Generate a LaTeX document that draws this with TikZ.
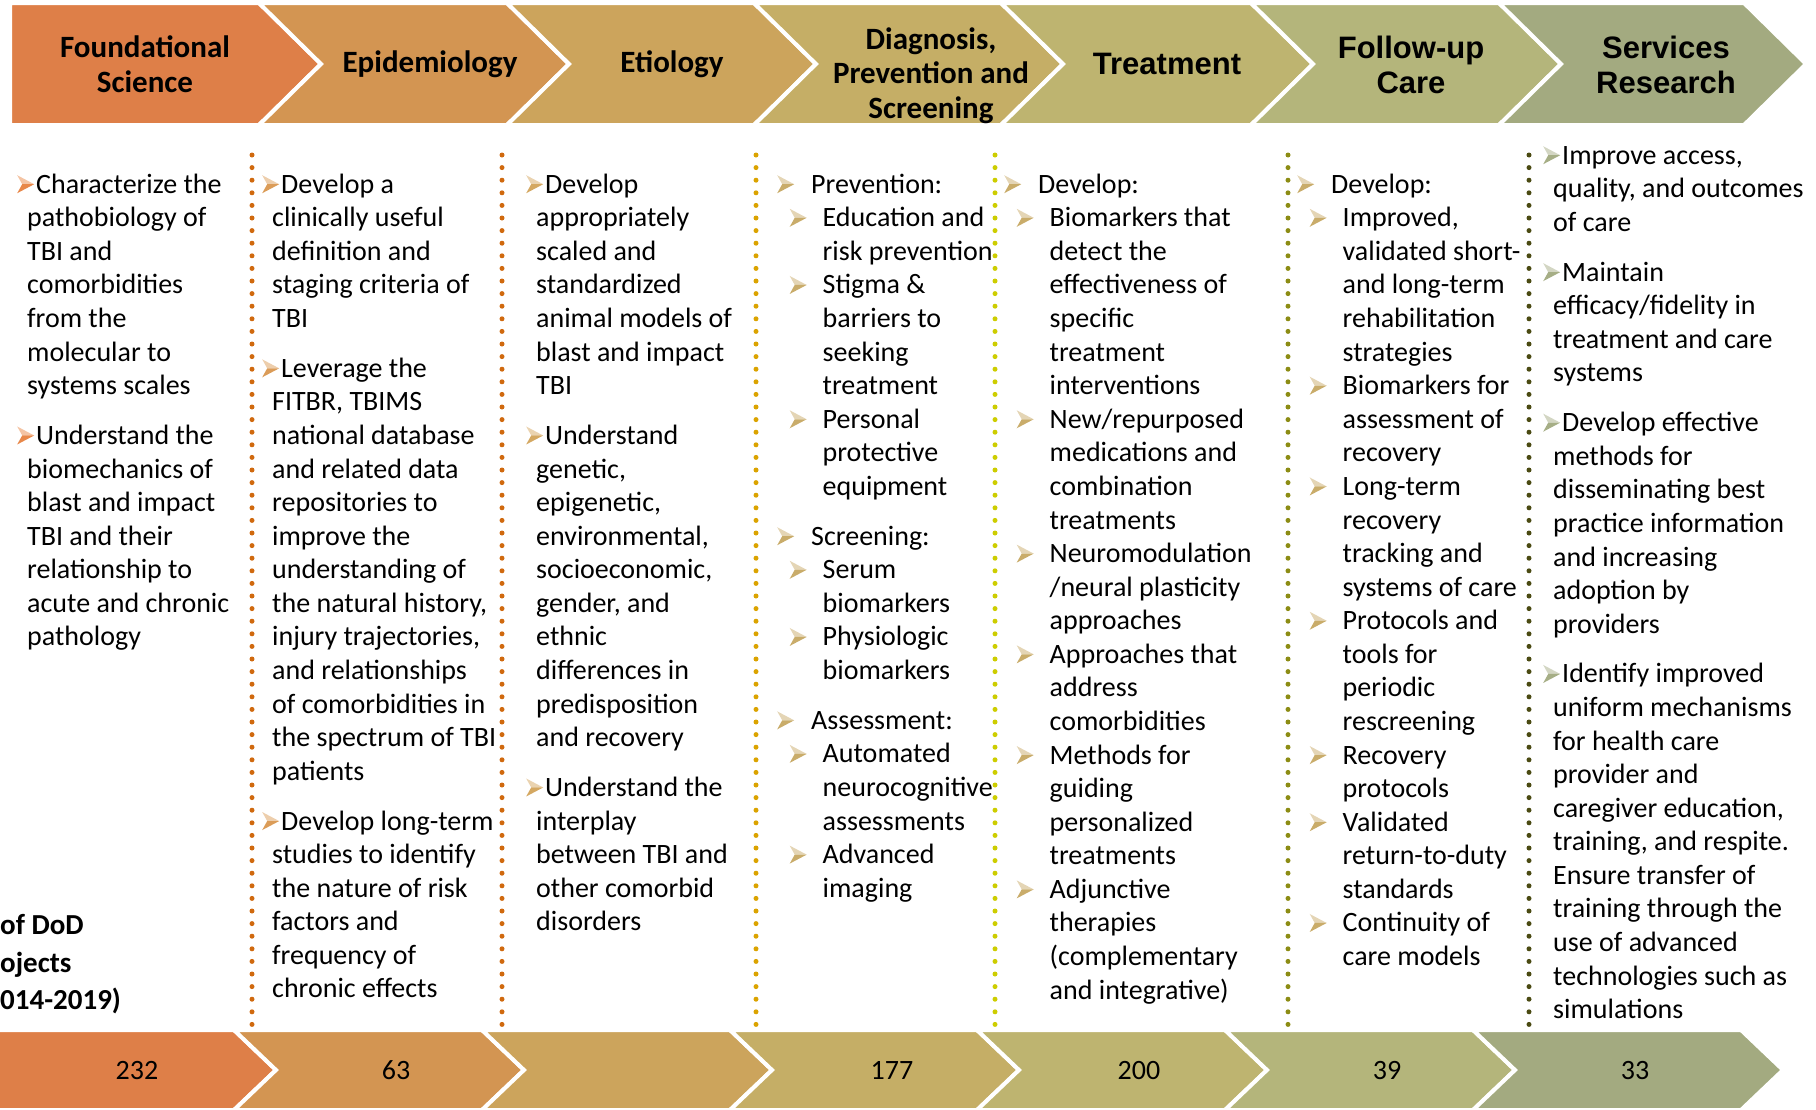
\documentclass[tikz,border=0pt]{standalone}
\usepackage{fontspec}
\setmainfont{Carlito}
\newfontfamily\arialfont{Liberation Sans}

\definecolor{chA}{HTML}{DE7F48}
\definecolor{chB}{HTML}{D39552}
\definecolor{chC}{HTML}{CCA45C}
\definecolor{chD}{HTML}{C5AE66}
\definecolor{chE}{HTML}{BEB470}
\definecolor{chF}{HTML}{B4B57B}
\definecolor{chG}{HTML}{A3AA80}
\definecolor{buA}{HTML}{E8884A}
\definecolor{buB}{HTML}{DB9C58}
\definecolor{buC}{HTML}{D4A862}
\definecolor{buD}{HTML}{C9AC6A}
\definecolor{buG}{HTML}{A6AE86}
\definecolor{dotA}{HTML}{D0690E}
\definecolor{dotC}{HTML}{DBA300}
\definecolor{dotD}{HTML}{CDCD00}
\definecolor{dotE}{HTML}{8C8C14}
\definecolor{dotF}{HTML}{4A4A12}

% bullets
\newcommand{\bulsym}[1]{\tikz[x=1pt,y=1pt,baseline=0pt]{%
  \fill[#1!50] (0,18) -- (17,9) -- (5,9) -- cycle;
  \fill[#1] (0,0) -- (17,9) -- (5,9) -- cycle;}}
\newcommand{\bfirst}[1]{\strut\hspace*{-10pt}\makebox[19pt][l]{\bulsym{#1}}}
\newcommand{\bone}[1]{\strut\llap{\makebox[34pt][l]{\bulsym{#1}}}}
\newcommand{\btwo}[1]{\strut\hspace*{11.5pt}\llap{\makebox[33pt][l]{\bulsym{#1}}}}
\newcommand{\ind}{\hspace*{11.5pt}}
\newcommand{\pgap}{16.2pt}

\begin{document}
\begin{tikzpicture}[x=1pt,y=-1pt,
    chev/.style={draw=white,line width=4pt,line join=miter},
    head/.style={font=\fontsize{31}{35}\selectfont\bfseries,align=center,inner sep=0pt},
    headar/.style={head,font=\arialfont\fontsize{31}{35}\selectfont\bfseries},
    col/.style={font=\fontsize{28}{33.58}\selectfont,align=left,anchor=north west,inner sep=0pt},
    num/.style={font=\fontsize{28}{30}\selectfont,inner sep=0pt},
    side/.style={font=\fontsize{29}{37}\selectfont\bfseries,anchor=base west,inner sep=0pt},
    sep/.style={line width=5pt,line cap=round,dash pattern=on 0pt off 12.6pt}]

\useasboundingbox (0,0) rectangle (1816,1109);

% top band
\filldraw[chev,fill=chA] (10,3) -- (259,3) -- (321,64) -- (259,125) -- (10,125) -- cycle;
\foreach \a/\b/\c in {259/507/chB,507/754/chC,754/1001/chD,1001/1251/chE,1251/1499/chF,1499/1744/chG}
  \filldraw[chev,fill=\c] (\a,3) -- (\b,3) -- (\b+62,64) -- (\b,125) -- (\a,125) -- (\a+62,64) -- cycle;

\node[head] (hFound) at (145,64.5) {Foundational\\Science};
\node[head] (hEpi) at (430,64) {Epidemiology};
\node[head] (hEti) at (672,64) {Etiology};
\node[head,font=\fontsize{31}{34.5}\selectfont\bfseries] (hDiag) at (931,75.5) {Diagnosis,\\Prevention and\\Screening};
\node[headar] (hTreat) at (1167,63.5) {Treatment};
\node[headar] (hFollow) at (1411,64.5) {Follow-up\\Care};
\node[headar] (hServ) at (1666,64.5) {Services\\Research};

% bottom band
\filldraw[chev,fill=chA] (-5,1030) -- (234,1030) -- (276,1070) -- (234,1110) -- (-5,1110) -- cycle;
\foreach \a/\b/\c in {234/482/chB,482/730/chC,730/977/chD,977/1225/chE,1225/1473/chF,1473/1741/chG}
  \filldraw[chev,fill=\c] (\a,1030) -- (\b,1030) -- (\b+42,1070) -- (\b,1110) -- (\a,1110) -- (\a+42,1070) -- cycle;

\node[num] (nFound) at (137,1070) {232};
\node[num] (nEpi) at (396,1070) {63};
\node[num] (nDiag) at (892,1070) {177};
\node[num] (nTreat) at (1139,1070) {200};
\node[num] (nFollow) at (1387,1070) {39};
\node[num] (nServ) at (1635,1070) {33};

\node[side] (sOne) at (0,934) {of DoD};
\node[side] (sTwo) at (0,972) {ojects};
\node[side] (sThree) at (0,1009) {014-2019)};

% dotted separators
\draw[sep,dotA] (252,155) -- (252,1028);
\draw[sep,dotA] (502,155) -- (502,1028);
\draw[sep,dotC] (756,155) -- (756,1028);
\draw[sep,dotD] (995,155) -- (995,1028);
\draw[sep,dotE] (1288,155) -- (1288,1028);
\draw[sep,dotF] (1529,155) -- (1529,1028);

% columns
\node[col] (cFound) at (27,169.5) {%
\bfirst{buA}Characterize the\\
pathobiology of\\
TBI and\\
comorbidities\\
from the\\
molecular to\\
systems scales\\[\pgap]
\bfirst{buA}Understand the\\
biomechanics of\\
blast and impact\\
TBI and their\\
relationship to\\
acute and chronic\\
pathology};

\node[col] (cEpi) at (272,169.5) {%
\bfirst{buB}Develop a\\
clinically useful\\
definition and\\
staging criteria of\\
TBI\\[\pgap]
\bfirst{buB}Leverage the\\
FITBR, TBIMS\\
national database\\
and related data\\
repositories to\\
improve the\\
understanding of\\
the natural history,\\
injury trajectories,\\
and relationships\\
of comorbidities in\\
the spectrum of TBI\\
patients\\[\pgap]
\bfirst{buB}Develop long-term\\
studies to identify\\
the nature of risk\\
factors and\\
frequency of\\
chronic effects};

\node[col] (cEti) at (536,169.5) {%
\bfirst{buC}Develop\\
appropriately\\
scaled and\\
standardized\\
animal models of\\
blast and impact\\
TBI\\[\pgap]
\bfirst{buC}Understand\\
genetic,\\
epigenetic,\\
environmental,\\
socioeconomic,\\
gender, and\\
ethnic\\
differences in\\
predisposition\\
and recovery\\[\pgap]
\bfirst{buC}Understand the\\
interplay\\
between TBI and\\
other comorbid\\
disorders};

\node[col] (cDiag) at (811,169.5) {%
\bone{buD}Prevention:\\
\btwo{buD}Education and\\
\ind risk prevention\\
\btwo{buD}Stigma \&\\
\ind barriers to\\
\ind seeking\\
\ind treatment\\
\btwo{buD}Personal\\
\ind protective\\
\ind equipment\\[\pgap]
\bone{buD}Screening:\\
\btwo{buD}Serum\\
\ind biomarkers\\
\btwo{buD}Physiologic\\
\ind biomarkers\\[\pgap]
\bone{buD}Assessment:\\
\btwo{buD}Automated\\
\ind neurocognitive\\
\ind assessments\\
\btwo{buD}Advanced\\
\ind imaging};

\node[col] (cTreat) at (1038,169.5) {%
\bone{buD}Develop:\\
\btwo{buD}Biomarkers that\\
\ind detect the\\
\ind effectiveness of\\
\ind specific\\
\ind treatment\\
\ind interventions\\
\btwo{buD}New/repurposed\\
\ind medications and\\
\ind combination\\
\ind treatments\\
\btwo{buD}Neuromodulation\\
\ind /neural plasticity\\
\ind approaches\\
\btwo{buD}Approaches that\\
\ind address\\
\ind comorbidities\\
\btwo{buD}Methods for\\
\ind guiding\\
\ind personalized\\
\ind treatments\\
\btwo{buD}Adjunctive\\
\ind therapies\\
\ind (complementary\\
\ind and integrative)};

\node[col] (cFollow) at (1331,169.5) {%
\bone{buD}Develop:\\
\btwo{buD}Improved,\\
\ind validated short-\\
\ind and long-term\\
\ind rehabilitation\\
\ind strategies\\
\btwo{buD}Biomarkers for\\
\ind assessment of\\
\ind recovery\\
\btwo{buD}Long-term\\
\ind recovery\\
\ind tracking and\\
\ind systems of care\\
\btwo{buD}Protocols and\\
\ind tools for\\
\ind periodic\\
\ind rescreening\\
\btwo{buD}Recovery\\
\ind protocols\\
\btwo{buD}Validated\\
\ind return-to-duty\\
\ind standards\\
\btwo{buD}Continuity of\\
\ind care models};

\node[col] (cServ) at (1553,140.5) {%
\bfirst{buG}Improve access,\\
quality, and outcomes\\
of care\\[\pgap]
\bfirst{buG}Maintain\\
efficacy/fidelity in\\
treatment and care\\
systems\\[\pgap]
\bfirst{buG}Develop effective\\
methods for\\
disseminating best\\
practice information\\
and increasing\\
adoption by\\
providers\\[\pgap]
\bfirst{buG}Identify improved\\
uniform mechanisms\\
for health care\\
provider and\\
caregiver education,\\
training, and respite.\\
Ensure transfer of\\
training through the\\
use of advanced\\
technologies such as\\
simulations};
\end{tikzpicture}
\end{document}
